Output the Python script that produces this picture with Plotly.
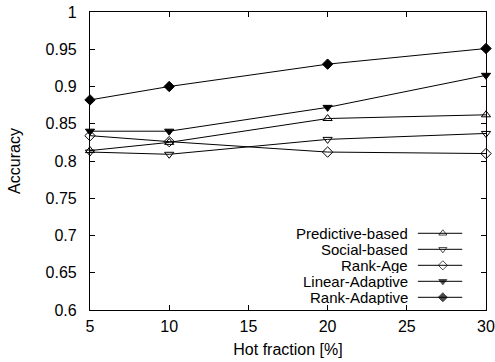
import plotly.graph_objects as go

hot_fraction = [5, 10, 20, 30]
predictive_based = [0.814, 0.825, 0.857, 0.862]
social_based = [0.812, 0.809, 0.829, 0.837]
rank_age = [0.834, 0.826, 0.812, 0.810]
linear_adaptive = [0.840, 0.840, 0.872, 0.915]
rank_adaptive = [0.882, 0.900, 0.930, 0.951]

series_names = ["Predictive-based", "Social-based", "Rank-Age", "Linear-Adaptive", "Rank-Adaptive"]
series_values = [predictive_based, social_based, rank_age, linear_adaptive, rank_adaptive]
symbols = ["triangle-up-open", "triangle-down-open", "diamond-open", "triangle-down", "diamond"]
msizes = [8, 8, 8, 8, 8]

FONT = "Liberation Sans, Arial, Helvetica, sans-serif"
FS = 16
LFS = 15
fig = go.Figure()
for name, vals, sym, ms in zip(series_names, series_values, symbols, msizes):
    fig.add_trace(go.Scatter(
        x=hot_fraction, y=vals, mode="lines+markers", name=name,
        line=dict(color="black", width=1),
        marker=dict(symbol=sym, size=ms, color="black", line=dict(color="black", width=1)),
        showlegend=False, cliponaxis=False))

# custom gnuplot-style legend (text on the left, sample on the right)
row_y = [0.2574, 0.2037, 0.1500, 0.0963, 0.0426]
for name, sym, ms, ly in zip(series_names, symbols, msizes, row_y):
    fig.add_trace(go.Scatter(
        x=[0.828, 0.891, 0.940], y=[ly, ly, ly], mode="lines+markers",
        xaxis="x2", yaxis="y2", showlegend=False, hoverinfo="skip",
        line=dict(color="black", width=1),
        marker=dict(symbol=sym, size=[0, ms - 1, 0], color="black", line=dict(color="black", width=1))))
    fig.add_annotation(x=0.808, y=ly, xref="x2", yref="y2", text=name, showarrow=False,
                       xanchor="right", yanchor="middle", height=15,
                       font=dict(family=FONT, size=LFS, color="black"))

axis_common = dict(showgrid=False, zeroline=False, showline=True, linecolor="black", linewidth=1.2,
                   mirror="ticks", ticks="inside", ticklen=5, tickcolor="black", automargin=False,
                   tickfont=dict(family=FONT, size=FS, color="black"))
fig.update_layout(
    width=495, height=362,
    margin=dict(l=90, r=9, t=12, b=52, autoexpand=False),
    plot_bgcolor="white", paper_bgcolor="white",
    xaxis=dict(range=[5, 30], tickvals=[5, 10, 15, 20, 25, 30], ticklabelstandoff=2,
               title=dict(text="Hot fraction [%]", font=dict(family=FONT, size=FS, color="black"), standoff=9),
               **axis_common),
    yaxis=dict(range=[0.6, 1.0], tickvals=[0.6, 0.65, 0.7, 0.75, 0.8, 0.85, 0.9, 0.95, 1.0],
               ticktext=["0.6", "0.65", "0.7", "0.75", "0.8", "0.85", "0.9", "0.95", "1"],
               ticklabelstandoff=9,
               title=dict(text="Accuracy", font=dict(family=FONT, size=FS, color="black"), standoff=20),
               **axis_common),
    xaxis2=dict(range=[0, 1], overlaying="x", visible=False, anchor="y2"),
    yaxis2=dict(range=[0, 1], overlaying="y", visible=False, anchor="x2"),
)

fig.write_html("out.html", config={"displayModeBar": False},
               post_script="document.body.style.margin='0';document.body.style.padding='0';document.body.style.overflow='hidden';")
